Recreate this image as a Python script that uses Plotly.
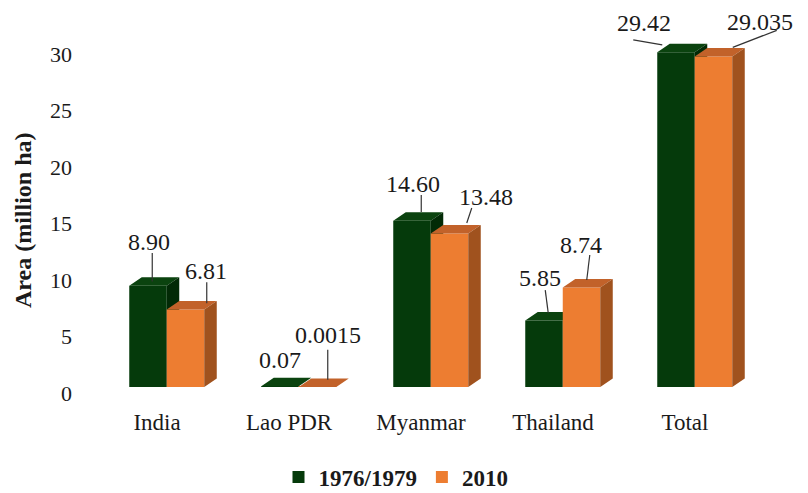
import plotly.graph_objects as go

# ---- data -------------------------------------------------------------
categories = ["India", "Lao PDR", "Myanmar", "Thailand", "Total"]
area_1976_1979 = [8.90, 0.07, 14.60, 5.85, 29.42]
area_2010 = [6.81, 0.0015, 13.48, 8.74, 29.035]
labels_1976_1979 = ["8.90", "0.07", "14.60", "5.85", "29.42"]
labels_2010 = ["6.81", "0.0015", "13.48", "8.74", "29.035"]
y_tick_values = [0, 5, 10, 15, 20, 25, 30]
series_names = ["1976/1979", "2010"]

# ---- geometry (pixels) ------------------------------------------------
W, H = 808, 493
ML, MR, MT, MB = 80, 18, 15, 93
PLOT_TOP, PLOT_BOTTOM = MT, H - MB
CAT0_PX, CAT_PX = 157, 132          # first category centre, category pitch
TICK_ZERO_PX, TICK_SCALE = 393, 11.30   # value axis (labels)
BAR_ZERO_PX, BAR_SCALE = 387, 11.38     # column front faces
BAR_W_PX = 37.5
OFFSET_PX = [-9.0, 28.5]             # column centres relative to category
DEPTH_X_PX, DEPTH_Y_PX = 12.5, 8.5   # pseudo-3D depth

FONT = "Liberation Serif"
TEXT = "#1a1a1a"
FRONT = ["#053A0B", "#ED7D31"]
TOP = ["#0B430F", "#C2622A"]
SIDE = ["#022A06", "#A0521E"]


def u(px):
    return px / CAT_PX


def v(px):
    return px / BAR_SCALE


x_range = [(ML - CAT0_PX) / CAT_PX, (W - MR - CAT0_PX) / CAT_PX]
tick_range = [-(PLOT_BOTTOM - TICK_ZERO_PX) / TICK_SCALE,
              (TICK_ZERO_PX - PLOT_TOP) / TICK_SCALE]
bar_range = [-(PLOT_BOTTOM - BAR_ZERO_PX) / BAR_SCALE,
             (BAR_ZERO_PX - PLOT_TOP) / BAR_SCALE]

bw, dx, dy = u(BAR_W_PX), u(DEPTH_X_PX), v(DEPTH_Y_PX)

# label placement relative to the centre of each column's top face (px):
# text centre (tx, ty) and optional leader line ((x0, y0), (x1, y1)); y down
label_layout = [
    [((-5, -39.5), ((-2, -28.5), (-2, 0))),
     ((-6, -22), None),
     ((-5, -32.6), ((3, -21.6), (3, -4.6))),
     ((-10, -38), ((-5, -26), (-2, -3))),
     ((-38, -25), ((-49, -8), (-20, -3)))],
    [((14, -34), ((15, -23), (15, -2))),
     ((4, -48), ((4, -33), (4, -3))),
     ((30, -32.4), ((16, -21.4), (11, -6.4))),
     ((-7, -38.3), ((2, -28.3), (-1, -3.3))),
     ((40, -30), ((57, -22), (13, -5)))],
]

fig = go.Figure()

# empty trace keeps the labelled value axis alive
fig.add_trace(go.Scatter(x=[None], y=[None], xaxis="x", yaxis="y",
                         showlegend=False, hoverinfo="skip"))

annotations = []
value_axes = ["y2", "y3"]
leader_x, leader_y = [], []

for s, (values, texts) in enumerate([(area_1976_1979, labels_1976_1979),
                                     (area_2010, labels_2010)]):
    ya = value_axes[s]
    centres = [i + u(OFFSET_PX[s]) for i in range(len(categories))]

    fig.add_trace(go.Bar(
        x=centres, y=values, width=bw, name=series_names[s],
        marker=dict(color=FRONT[s], line=dict(width=0)),
        xaxis="x", yaxis=ya, showlegend=True, hoverinfo="skip",
    ))

    top_x, top_y, side_x, side_y = [], [], [], []
    for xc, val in zip(centres, values):
        xl, xr = xc - bw / 2, xc + bw / 2
        top_x += [xl, xr, xr + dx, xl + dx, xl, None]
        top_y += [val, val, val + dy, val + dy, val, None]
        side_x += [xr, xr + dx, xr + dx, xr, xr, None]
        side_y += [0, dy, val + dy, val, 0, None]

    for px_, py_, col in [(top_x, top_y, TOP[s]), (side_x, side_y, SIDE[s])]:
        fig.add_trace(go.Scatter(
            x=px_, y=py_, mode="lines", fill="toself", fillcolor=col,
            line=dict(width=0, color=col), xaxis="x", yaxis=ya,
            showlegend=False, hoverinfo="skip",
        ))

    for xc, val, txt, (tpos, leader) in zip(centres, values, texts,
                                            label_layout[s]):
        cx, cy = xc + dx / 2, val + dy / 2
        annotations.append(dict(
            x=cx + u(tpos[0]), y=cy - v(tpos[1]), xref="x", yref="y2",
            text=txt, showarrow=False, xanchor="center", yanchor="middle",
            font=dict(family=FONT, size=24, color=TEXT),
        ))
        if leader:
            (x0, y0), (x1, y1) = leader
            leader_x += [cx + u(x0), cx + u(x1), None]
            leader_y += [cy - v(y0), cy - v(y1), None]

fig.add_trace(go.Scatter(
    x=leader_x, y=leader_y, mode="lines",
    line=dict(color="#333333", width=1.2), xaxis="x", yaxis="y3",
    showlegend=False, hoverinfo="skip",
))

# value-axis title
annotations.append(dict(
    x=(23 - ML) / (W - ML - MR), y=(PLOT_BOTTOM - 220) / (PLOT_BOTTOM - PLOT_TOP),
    xref="paper", yref="paper", text="Area (million ha)", textangle=-90,
    showarrow=False, xanchor="center", yanchor="middle",
    font=dict(family=FONT, size=24, color=TEXT, weight="bold"),
))

hidden = dict(visible=False, fixedrange=True)
fig.update_layout(
    width=W, height=H,
    margin=dict(l=ML, r=MR, t=MT, b=MB, autoexpand=False),
    paper_bgcolor="white", plot_bgcolor="white",
    barmode="overlay",
    xaxis=dict(range=x_range, tickmode="array",
               tickvals=list(range(len(categories))), ticktext=categories,
               showgrid=False, zeroline=False, showline=False, ticks="",
               ticklabelstandoff=6, automargin=False,
               tickfont=dict(family=FONT, size=23, color=TEXT)),
    yaxis=dict(range=tick_range, tickmode="array", tickvals=y_tick_values,
               showgrid=False, zeroline=False, showline=False, ticks="",
               ticklabelstandoff=7, automargin=False,
               tickfont=dict(family=FONT, size=22, color=TEXT)),
    yaxis2=dict(range=bar_range, overlaying="y", anchor="x", **hidden),
    yaxis3=dict(range=bar_range, overlaying="y", anchor="x", **hidden),
    legend=dict(orientation="h", x=(396 - ML) / (W - ML - MR),
                xanchor="center",
                y=-(477 - PLOT_BOTTOM) / (PLOT_BOTTOM - PLOT_TOP),
                yanchor="middle",
                font=dict(family=FONT, size=23, color=TEXT, weight="bold"),
                bgcolor="rgba(0,0,0,0)"),
    annotations=annotations,
    showlegend=True,
)

fig.write_html("out.html")
